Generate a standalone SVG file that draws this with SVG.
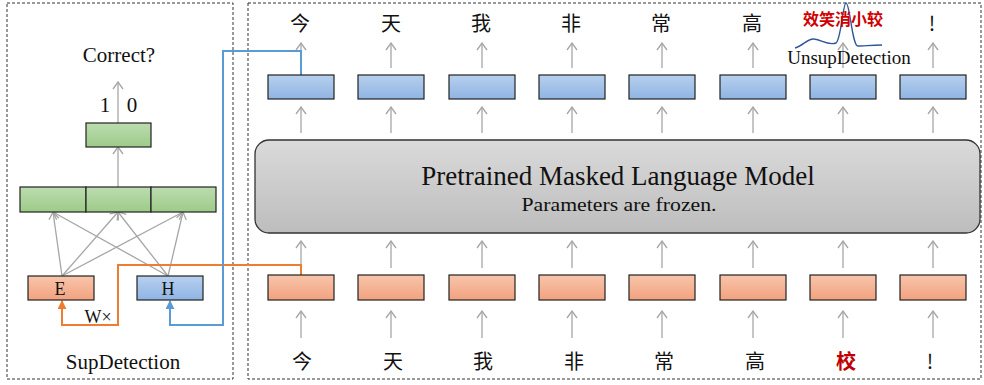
<svg xmlns="http://www.w3.org/2000/svg" width="984" height="385" viewBox="0 0 984 385">
<defs>
<linearGradient id="gBlue" x1="0" y1="0" x2="0" y2="1"><stop offset="0" stop-color="#b7d0ee"/><stop offset="1" stop-color="#8fb4e3"/></linearGradient>
<linearGradient id="gOrange" x1="0" y1="0" x2="0" y2="1"><stop offset="0" stop-color="#f8c5ab"/><stop offset="1" stop-color="#f2a27f"/></linearGradient>
<linearGradient id="gGreen" x1="0" y1="0" x2="0" y2="1"><stop offset="0" stop-color="#bcdcb0"/><stop offset="1" stop-color="#9dcb88"/></linearGradient>
<linearGradient id="gGray" x1="0" y1="0" x2="0" y2="1"><stop offset="0" stop-color="#dadada"/><stop offset="1" stop-color="#bdbdbd"/></linearGradient>
<marker id="ag" viewBox="0 0 12 12" refX="11" refY="6" markerWidth="12" markerHeight="12" markerUnits="userSpaceOnUse" orient="auto">
<polyline points="4,1 11,6 4,11" fill="none" stroke="#a6a6a6" stroke-width="1.3"/>
</marker>
<marker id="ao" viewBox="0 0 10 10" refX="9" refY="5" markerWidth="9" markerHeight="9" markerUnits="userSpaceOnUse" orient="auto">
<polygon points="0,0 10,5 0,10" fill="#ed7d31"/>
</marker>
<marker id="ab" viewBox="0 0 10 10" refX="9" refY="5" markerWidth="9" markerHeight="9" markerUnits="userSpaceOnUse" orient="auto">
<polygon points="0,0 10,5 0,10" fill="#5b9bd5"/>
</marker>
</defs>
<style>
.panel{fill:none;stroke:#333;stroke-width:1;stroke-dasharray:3,2}
.blue{fill:url(#gBlue);stroke:#222;stroke-width:1.2}
.orange{fill:url(#gOrange);stroke:#222;stroke-width:1.2}
.green{fill:url(#gGreen);stroke:#222;stroke-width:1.2}
.ga{stroke:#a6a6a6;stroke-width:1.3;fill:none;marker-end:url(#ag)}
.serif{font-family:"Liberation Serif","Times New Roman",serif;fill:#111}
.cjk{font-family:"Noto Sans CJK SC","Noto Sans CJK JP",sans-serif;font-size:20px;fill:#111;text-anchor:middle}
</style>
<rect width="984" height="385" fill="#fff"/>
<rect class="panel" x="7" y="3" width="226" height="376"/>
<rect class="panel" x="248" y="3" width="733" height="376"/>

<g id="connectors">
<line class="ga" x1="301" y1="68" x2="301" y2="43"/>
<line class="ga" x1="391" y1="68" x2="391" y2="43"/>
<line class="ga" x1="482" y1="68" x2="482" y2="43"/>
<line class="ga" x1="572" y1="68" x2="572" y2="43"/>
<line class="ga" x1="662" y1="68" x2="662" y2="43"/>
<line class="ga" x1="753" y1="68" x2="753" y2="43"/>
<line class="ga" x1="843" y1="68" x2="843" y2="43"/>
<line class="ga" x1="933" y1="68" x2="933" y2="43"/>
<line class="ga" x1="301" y1="133" x2="301" y2="107"/>
<line class="ga" x1="391" y1="133" x2="391" y2="107"/>
<line class="ga" x1="482" y1="133" x2="482" y2="107"/>
<line class="ga" x1="572" y1="133" x2="572" y2="107"/>
<line class="ga" x1="662" y1="133" x2="662" y2="107"/>
<line class="ga" x1="753" y1="133" x2="753" y2="107"/>
<line class="ga" x1="843" y1="133" x2="843" y2="107"/>
<line class="ga" x1="933" y1="133" x2="933" y2="107"/>
<line class="ga" x1="301" y1="268" x2="301" y2="241"/>
<line class="ga" x1="391" y1="268" x2="391" y2="241"/>
<line class="ga" x1="482" y1="268" x2="482" y2="241"/>
<line class="ga" x1="572" y1="268" x2="572" y2="241"/>
<line class="ga" x1="662" y1="268" x2="662" y2="241"/>
<line class="ga" x1="753" y1="268" x2="753" y2="241"/>
<line class="ga" x1="843" y1="268" x2="843" y2="241"/>
<line class="ga" x1="933" y1="268" x2="933" y2="241"/>
<line class="ga" x1="301" y1="338" x2="301" y2="311"/>
<line class="ga" x1="391" y1="338" x2="391" y2="311"/>
<line class="ga" x1="482" y1="338" x2="482" y2="311"/>
<line class="ga" x1="572" y1="338" x2="572" y2="311"/>
<line class="ga" x1="662" y1="338" x2="662" y2="311"/>
<line class="ga" x1="753" y1="338" x2="753" y2="311"/>
<line class="ga" x1="843" y1="338" x2="843" y2="311"/>
<line class="ga" x1="933" y1="338" x2="933" y2="311"/>
<line class="ga" x1="118" y1="123" x2="118" y2="82"/>
<line class="ga" x1="118" y1="187" x2="118" y2="147"/>
<line class="ga" x1="62" y1="276" x2="53" y2="212"/>
<line class="ga" x1="62" y1="276" x2="118" y2="212"/>
<line class="ga" x1="62" y1="276" x2="183" y2="212"/>
<line class="ga" x1="168" y1="276" x2="53" y2="212"/>
<line class="ga" x1="168" y1="276" x2="118" y2="212"/>
<line class="ga" x1="168" y1="276" x2="183" y2="212"/>
<polyline points="301,275 301,265 118,265 118,325 62,325 62,301" fill="none" stroke="#ed7d31" stroke-width="2" marker-end="url(#ao)"/>
<polyline points="301,75 301,51 223,51 223,325 170,325 170,301" fill="none" stroke="#5b9bd5" stroke-width="2" marker-end="url(#ab)"/>
</g>

<g id="top-chars">
<text class="cjk" x="300" y="31">今</text>
<text class="cjk" x="391" y="31">天</text>
<text class="cjk" x="481" y="31">我</text>
<text class="cjk" x="571" y="31">非</text>
<text class="cjk" x="661" y="31">常</text>
<text class="cjk" x="752" y="31">高</text>
<text class="cjk" x="932" y="31">!</text>
</g>

<g id="unsup">
<path d="M795,48 C803,46 808,38 814,39 C822,40 828,46 836,43 C841,40 843,3 846,3 C850,3 852,46 858,46 C864,46 872,45 882,45" fill="none" stroke="#2f5597" stroke-width="1.4"/>
<text x="843" y="25" text-anchor="middle" font-family="Noto Sans CJK SC, sans-serif" font-size="16" font-weight="bold" fill="#d00000">效笑消小较</text>
<text class="serif" x="849" y="64" text-anchor="middle" font-size="19">UnsupDetection</text>
</g>

<g id="blue-boxes">
<rect class="blue" x="268" y="75" width="66" height="24"/>
<rect class="blue" x="358" y="75" width="66" height="24"/>
<rect class="blue" x="449" y="75" width="66" height="24"/>
<rect class="blue" x="539" y="75" width="66" height="24"/>
<rect class="blue" x="629" y="75" width="66" height="24"/>
<rect class="blue" x="720" y="75" width="66" height="24"/>
<rect class="blue" x="810" y="75" width="66" height="24"/>
<rect class="blue" x="900" y="75" width="66" height="24"/>
</g>

<g id="model">
<rect x="255" y="140" width="725" height="93" rx="14" fill="url(#gGray)" stroke="#333" stroke-width="1.3"/>
<text class="serif" x="618" y="185" text-anchor="middle" font-size="27">Pretrained Masked Language Model</text>
<text class="serif" x="619" y="211" text-anchor="middle" font-size="19" textLength="195" lengthAdjust="spacingAndGlyphs">Parameters are frozen.</text>
</g>

<g id="orange-boxes">
<rect class="orange" x="268" y="275" width="66" height="25"/>
<rect class="orange" x="358" y="275" width="66" height="25"/>
<rect class="orange" x="449" y="275" width="66" height="25"/>
<rect class="orange" x="539" y="275" width="66" height="25"/>
<rect class="orange" x="629" y="275" width="66" height="25"/>
<rect class="orange" x="720" y="275" width="66" height="25"/>
<rect class="orange" x="810" y="275" width="66" height="25"/>
<rect class="orange" x="900" y="275" width="66" height="25"/>
</g>

<g id="bottom-chars">
<text class="cjk" x="302" y="369">今</text>
<text class="cjk" x="393" y="369">天</text>
<text class="cjk" x="483" y="369">我</text>
<text class="cjk" x="574" y="369">非</text>
<text class="cjk" x="664" y="369">常</text>
<text class="cjk" x="755" y="369">高</text>
<text class="cjk" x="846" y="369" font-weight="bold" style="fill:#c00000">校</text>
<text class="cjk" x="930" y="369">!</text>
</g>

<g id="sup-detection">
<text class="serif" x="119" y="62" text-anchor="middle" font-size="21">Correct?</text>
<text class="serif" x="105" y="112" text-anchor="middle" font-size="21">1</text>
<text class="serif" x="132" y="112" text-anchor="middle" font-size="21">0</text>
<rect class="green" x="86" y="123" width="65" height="24"/>
<rect class="green" x="20" y="187" width="66" height="25"/>
<rect class="green" x="86" y="187" width="65" height="25"/>
<rect class="green" x="151" y="187" width="65" height="25"/>
<g id="E"><rect class="orange" x="28" y="276" width="66" height="24"/><text class="serif" x="60" y="295" text-anchor="middle" font-size="18">E</text></g>
<g id="H"><rect class="blue" x="137" y="276" width="66" height="24"/><text class="serif" x="168" y="295" text-anchor="middle" font-size="18">H</text></g>
<text class="serif" x="98" y="323" text-anchor="middle" font-size="18">W×</text>
<text class="serif" x="123" y="369" text-anchor="middle" font-size="21">SupDetection</text>
</g>
</svg>
